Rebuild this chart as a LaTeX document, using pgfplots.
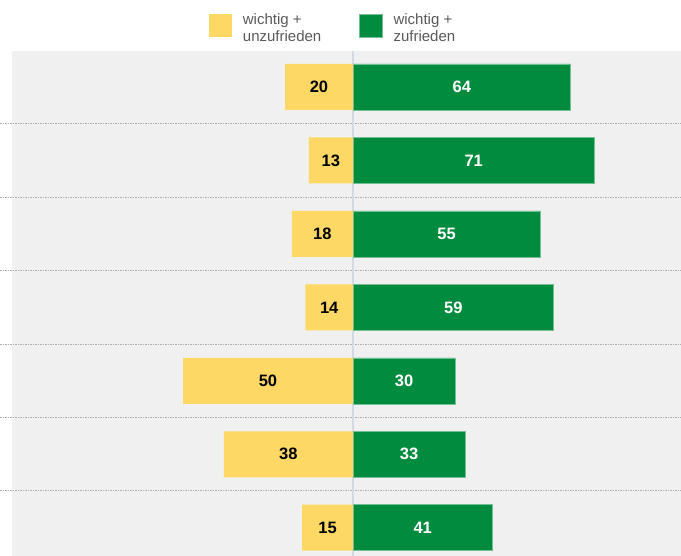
\documentclass[border=0pt]{standalone}
\usepackage{pgfplots}
\pgfplotsset{compat=1.18}
\usepackage{pgfplotstable}
\usepackage{fontspec}
\setmainfont{Liberation Sans}
\definecolor{cY}{HTML}{FDD865}
\definecolor{cG}{HTML}{008B3F}
\definecolor{panel}{HTML}{F0F0F0}
\definecolor{cline}{HTML}{D2DAE5}
\definecolor{sepc}{HTML}{ADADAD}
\definecolor{legtext}{HTML}{595959}

\pgfplotstableread{
i neg pos
0 20 64
1 13 71
2 18 55
3 14 59
4 50 30
5 38 33
6 15 41
}\data

\begin{document}
\begin{tikzpicture}
\begin{axis}[
  name=ax,
  scale only axis,
  width=669pt, height=505pt,
  xmin=-100.294, xmax=96.47,
  ymin=-0.49, ymax=6.385,
  y dir=reverse,
  axis line style={draw=none},
  xtick=\empty, ytick=\empty,
  axis background/.style={fill=panel},
  clip=false,
  legend columns=2,
  legend image code/.code={\fill[#1] (0pt,-8.3pt) rectangle (23pt,14.7pt);},
  legend style={
    draw=none, fill=none, inner sep=0pt,
    at={(axis description cs:0.2945,1.0774)}, anchor=north west,
    font=\fontsize{15}{16.6}\selectfont, text=legtext,
    cells={align=left, anchor=west, inner sep=0pt},
    /tikz/every odd column/.append style={column sep=8.7pt},
    /tikz/every even column/.append style={column sep=36pt},
  },
]
% separators
\addplot[forget plot, sepc, line width=1pt, dash pattern=on 1.5pt off 1pt] coordinates {(-103.8,0.5) (96.47,0.5)};
\addplot[forget plot, sepc, line width=1pt, dash pattern=on 1.5pt off 1pt] coordinates {(-103.8,1.5) (96.47,1.5)};
\addplot[forget plot, sepc, line width=1pt, dash pattern=on 1.5pt off 1pt] coordinates {(-103.8,2.5) (96.47,2.5)};
\addplot[forget plot, sepc, line width=1pt, dash pattern=on 1.5pt off 1pt] coordinates {(-103.8,3.5) (96.47,3.5)};
\addplot[forget plot, sepc, line width=1pt, dash pattern=on 1.5pt off 1pt] coordinates {(-103.8,4.5) (96.47,4.5)};
\addplot[forget plot, sepc, line width=1pt, dash pattern=on 1.5pt off 1pt] coordinates {(-103.8,5.5) (96.47,5.5)};
% center line
\addplot[forget plot, cline, line width=2pt] coordinates {(0,-0.49) (0,6.385)};
% bars
\addplot[xbar, bar shift=0pt, bar width=46pt, fill=cY, draw=none] table[x expr=-\thisrow{neg}, y=i] {\data};
\addlegendentry{wichtig +\\unzufrieden}
\addplot[xbar, bar shift=0pt, bar width=46pt, fill=cG, draw=cG!55!white, line width=0.5pt] table[x=pos, y=i] {\data};
\addlegendentry{wichtig +\\zufrieden}
% labels
\addplot[forget plot, draw=none, mark=none, point meta=explicit symbolic,
  nodes near coords, nodes near coords style={anchor=center, font=\bfseries\fontsize{16.5}{16.5}\selectfont, text=black}]
  table[x expr=-\thisrow{neg}/2, y=i, meta=neg] {\data};
\addplot[forget plot, draw=none, mark=none, point meta=explicit symbolic,
  nodes near coords, nodes near coords style={anchor=center, font=\bfseries\fontsize{16.5}{16.5}\selectfont, text=white}]
  table[x expr=\thisrow{pos}/2, y=i, meta=pos] {\data};
\end{axis}
\pgfresetboundingbox
\path[use as bounding box] ([xshift=-12pt]ax.south west) rectangle ([yshift=51pt]ax.north east);
\end{tikzpicture}
\end{document}
